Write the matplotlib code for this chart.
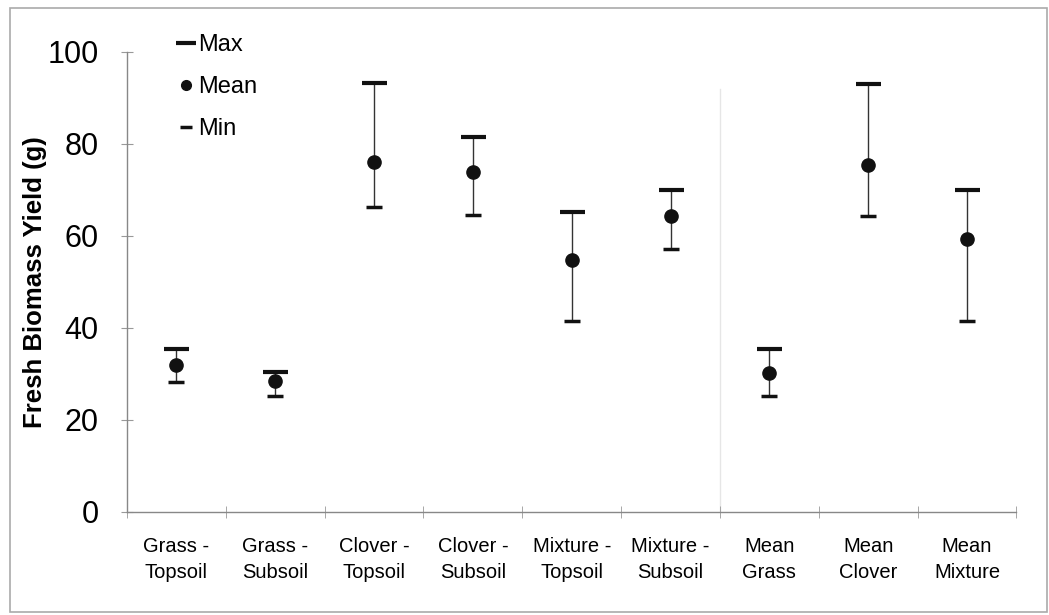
import matplotlib.pyplot as plt
from matplotlib.lines import Line2D
from matplotlib.patches import Rectangle
from matplotlib.ticker import FixedLocator

plt.rcParams['font.family'] = ['Liberation Sans', 'DejaVu Sans']

categories = ['Grass -\nTopsoil', 'Grass -\nSubsoil', 'Clover -\nTopsoil', 'Clover -\nSubsoil',
              'Mixture -\nTopsoil', 'Mixture -\nSubsoil', 'Mean\nGrass', 'Mean\nClover', 'Mean\nMixture']
max_vals = [35.4, 30.4, 93.3, 81.5, 65.2, 70.0, 35.4, 93.0, 70.0]
mean_vals = [32.0, 28.5, 76.0, 74.0, 54.8, 64.3, 30.2, 75.4, 59.3]
min_vals = [28.3, 25.2, 66.3, 64.6, 41.5, 57.2, 25.2, 64.3, 41.5]

fig = plt.figure(figsize=(10.49, 6.15), dpi=100)
ax = fig.add_axes([0.121, 0.1675, 0.848, 0.748])

x = list(range(len(categories)))
ax.axvline(5.5, color='#e6e6e6', lw=1, ymax=0.92, zorder=0)
ax.vlines(x, min_vals, max_vals, color='#333333', lw=1)
ax.plot(x, max_vals, ls='none', marker='_', ms=18, mew=3, color='#111111')
ax.plot(x, min_vals, ls='none', marker='_', ms=12, mew=2.5, color='#111111')
ax.plot(x, mean_vals, ls='none', marker='o', ms=9.5, color='#111111')

ax.set_xlim(-0.5, 8.5)
ax.set_ylim(0, 100)
ax.set_yticks([0, 20, 40, 60, 80, 100])
ax.tick_params(axis='y', labelsize=22, direction='inout', length=9, color='#999999', pad=16)
ax.set_xticks(x)
ax.set_xticklabels(categories, fontsize=14.5, linespacing=1.5)
ax.tick_params(axis='x', length=0, pad=18)
ax.xaxis.set_minor_locator(FixedLocator([i - 0.5 for i in range(10)]))
ax.tick_params(axis='x', which='minor', direction='inout', length=9, color='#999999')
ax.set_ylabel('Fresh Biomass Yield (g)', fontsize=18.5, fontweight='bold', labelpad=0)

for side in ['top', 'right']:
    ax.spines[side].set_visible(False)
for side in ['left', 'bottom']:
    ax.spines[side].set_color('#888888')
    ax.spines[side].set_linewidth(1)

handles = [
    Line2D([], [], ls='none', marker='_', ms=14, mew=3, color='#111111'),
    Line2D([], [], ls='none', marker='o', ms=7, color='#111111'),
    Line2D([], [], ls='none', marker='_', ms=9, mew=2.5, color='#111111'),
]
ax.legend(handles, ['Max', 'Mean', 'Min'], loc='upper left', bbox_to_anchor=(0.035, 1.085),
          frameon=False, fontsize=17, handlelength=0.6, handletextpad=0.2, labelspacing=0.85)

fig.patches.append(Rectangle((10 / 1049, 3 / 615), 1037 / 1049, 604 / 615, transform=fig.transFigure,
                             fill=False, edgecolor='#aaaaaa', lw=1.2))

fig.savefig('out.png', dpi=100)
